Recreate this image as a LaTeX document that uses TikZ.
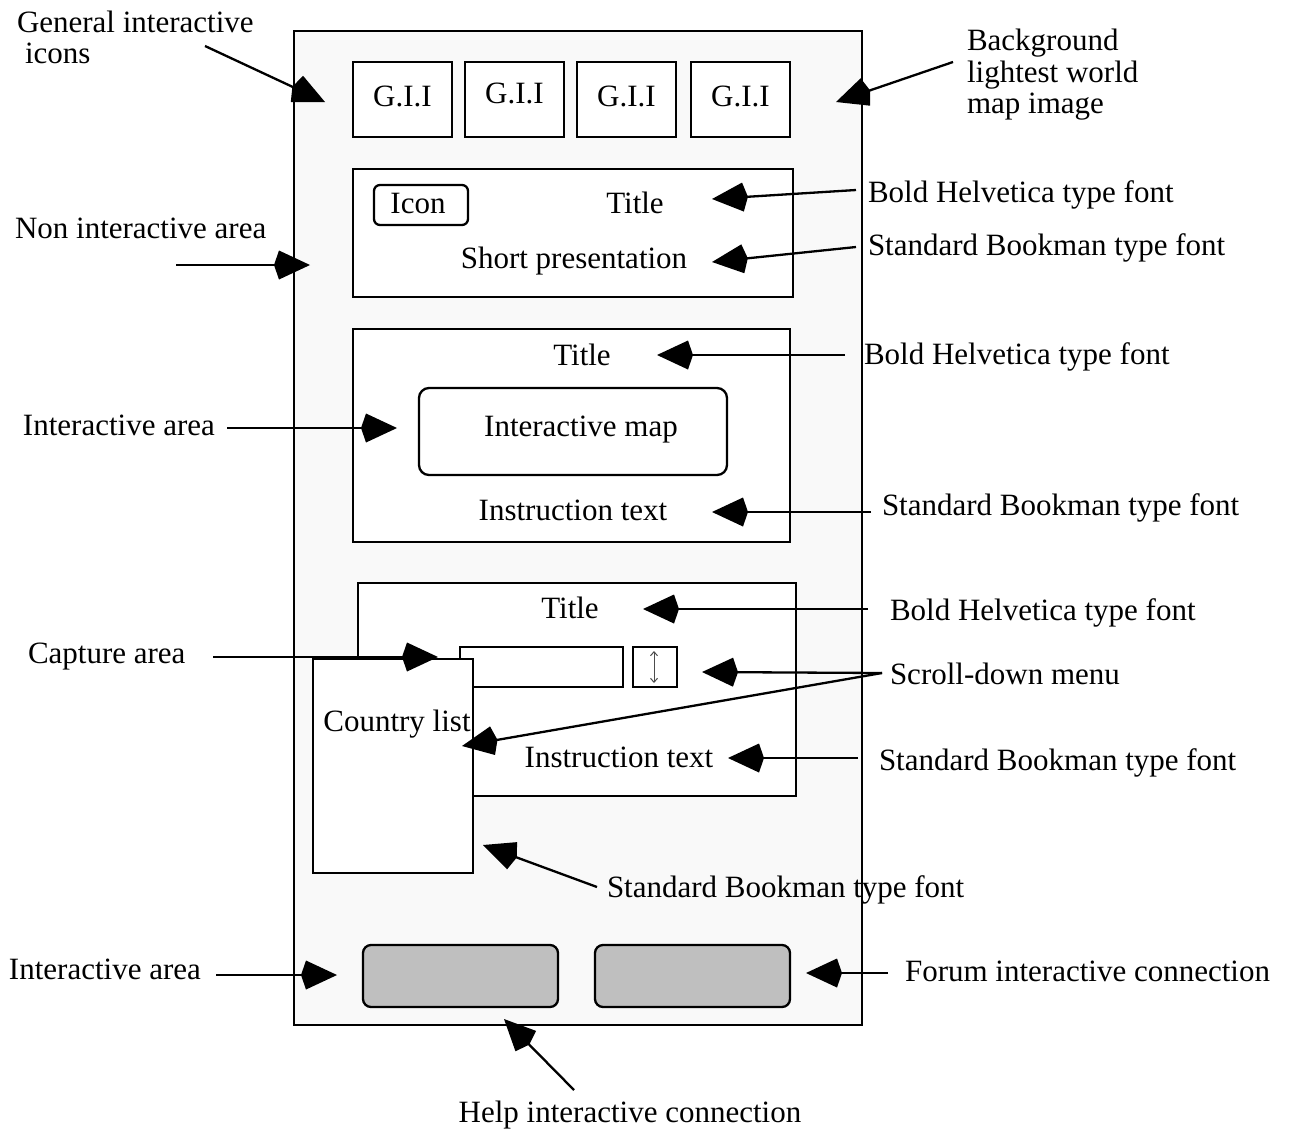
\documentclass[tikz,border=0pt]{standalone}
\usepackage{fontspec}
\setmainfont{Liberation Serif}
\usetikzlibrary{arrows.meta}
\definecolor{framebg}{HTML}{F9F9F9}
\definecolor{btngray}{HTML}{BFBFBF}
\begin{document}
\begin{tikzpicture}[x=1pt,y=-1pt,
  txt/.style={font=\fontsize{31}{31}\selectfont, inner sep=0pt, outer sep=0pt},
  lbl/.style={txt, anchor=base west},
  ctr/.style={txt, anchor=base},
  bx/.style={draw, line width=2.3pt, fill=white, inner sep=0pt, outer sep=0pt},
  btn/.style={bx, fill=btngray, rounded corners=8pt, minimum width=195pt, minimum height=62pt},
  arr/.style={line width=2.3pt, -{Kite[length=36pt,width=29pt,inset=5pt]}},
]
\useasboundingbox (0,0) rectangle (1292,1133);

% main frame
\node[bx, fill=framebg, minimum width=568pt, minimum height=994pt] (frame) at (578,528) {};

% general interactive icons
\node[bx, minimum width=99pt, minimum height=75pt] (g1) at (402.5,99.5) {};
\node[bx, minimum width=99pt, minimum height=75pt] (g2) at (514.5,99.5) {};
\node[bx, minimum width=99pt, minimum height=75pt] (g3) at (626.5,99.5) {};
\node[bx, minimum width=99pt, minimum height=75pt] (g4) at (740.5,99.5) {};
\node[ctr] (g1t) at (402.5,106) {G.I.I};
\node[ctr] (g2t) at (514.5,103) {G.I.I};
\node[ctr] (g3t) at (626.5,106) {G.I.I};
\node[ctr] (g4t) at (740.5,106) {G.I.I};

% non interactive area box
\node[bx, minimum width=440pt, minimum height=128pt] (b1) at (573,233) {};
\node[bx, rounded corners=6pt, minimum width=94pt, minimum height=40pt] (icon) at (421,205) {};
\node[ctr] (icont) at (418,213) {Icon};
\node[ctr] (t1) at (635,213) {Title};
\node[ctr] (sp) at (574,268) {Short presentation};

% interactive area box
\node[bx, minimum width=437pt, minimum height=213pt] (b2) at (571.5,435.5) {};
\node[bx, rounded corners=10pt, minimum width=308pt, minimum height=87pt] (map) at (573,431.5) {};
\node[ctr] (t2) at (582,365) {Title};
\node[ctr] (mapt) at (581,436) {Interactive map};
\node[ctr] (it2) at (573,520) {Instruction text};

% capture area box
\node[bx, minimum width=438pt, minimum height=213pt] (b3) at (577,689.5) {};
\node[bx, minimum width=163pt, minimum height=40pt] (inp) at (541.5,667) {};
\node[bx, minimum width=44pt, minimum height=40pt] (scr) at (655,667) {};
\coordinate (scA) at (654,651);
\coordinate (scB) at (654,683);
\draw[gray!60!black, line width=1pt, {Straight Barb[length=4pt,width=7pt]}-{Straight Barb[length=4pt,width=7pt]}] (scA) -- (scB);
\node[bx, minimum width=160pt, minimum height=214pt] (cl) at (393,766) {};
\node[ctr] (t3) at (570,618) {Title};
\node[ctr] (clt) at (397,731) {Country list};
\node[ctr] (it3) at (619,767) {Instruction text};

% buttons
\node[btn] (help) at (460.5,976) {};
\node[btn] (forum) at (692.5,976) {};

% outside labels
\node[lbl] (l1a) at (17,32) {General interactive};
\node[lbl] (l1b) at (25,63) {icons};
\node[lbl] (l2a) at (967,50) {Background};
\node[lbl] (l2b) at (967,82) {lightest world};
\node[lbl] (l2c) at (967,113) {map image};
\node[lbl] (l3) at (868,202) {Bold Helvetica type font};
\node[lbl] (l4) at (868,255) {Standard Bookman type font};
\node[lbl] (l5) at (15,238) {Non interactive area};
\node[lbl] (l6) at (864,364) {Bold Helvetica type font};
\node[lbl] (l7) at (23,435) {Interactive area};
\node[lbl] (l8) at (882,515) {Standard Bookman type font};
\node[lbl] (l9) at (890,620) {Bold Helvetica type font};
\node[lbl] (l10) at (28,663) {Capture area};
\node[lbl] (l11) at (890,684) {Scroll-down menu};
\node[lbl] (l12) at (879,770) {Standard Bookman type font};
\node[lbl] (l13) at (607,897) {Standard Bookman type font};
\node[lbl] (l14) at (9,979) {Interactive area};
\node[lbl] (l15) at (905,981) {Forum interactive connection};
\node[ctr] (l16) at (630,1122) {Help interactive connection};

% arrow end points
\coordinate (a1s) at (205,46);   \coordinate (a1e) at (325,102);
\coordinate (a2s) at (953,62);   \coordinate (a2e) at (836,102);
\coordinate (a3s) at (856,190);  \coordinate (a3e) at (712,199);
\coordinate (a4s) at (856,247);  \coordinate (a4e) at (712,262);
\coordinate (a5s) at (176,265);  \coordinate (a5e) at (310,265);
\coordinate (a6s) at (845,355);  \coordinate (a6e) at (657,355);
\coordinate (a7s) at (227,428);  \coordinate (a7e) at (397,428);
\coordinate (a8s) at (871,512);  \coordinate (a8e) at (712,512);
\coordinate (a9s) at (868,609);  \coordinate (a9e) at (643,609);
\coordinate (a10s) at (213,657); \coordinate (a10e) at (438,657);
\coordinate (a11s) at (882,673); \coordinate (a11e) at (702,672);
\coordinate (a12e) at (462,746);
\coordinate (a13s) at (858,758); \coordinate (a13e) at (728,758);
\coordinate (a14s) at (597,887); \coordinate (a14e) at (483,845);
\coordinate (a15s) at (216,975); \coordinate (a15e) at (337,975);
\coordinate (a16s) at (888,973); \coordinate (a16e) at (806,973);
\coordinate (a17s) at (574,1090);\coordinate (a17e) at (504,1019);

\draw[arr] (a1s) -- (a1e);
\draw[arr] (a2s) -- (a2e);
\draw[arr] (a3s) -- (a3e);
\draw[arr] (a4s) -- (a4e);
\draw[arr] (a5s) -- (a5e);
\draw[arr] (a6s) -- (a6e);
\draw[arr] (a7s) -- (a7e);
\draw[arr] (a8s) -- (a8e);
\draw[arr] (a9s) -- (a9e);
\draw[arr] (a10s) -- (a10e);
\draw[arr] (a11s) -- (a11e);
\draw[arr] (a11s) -- (a12e);
\draw[arr] (a13s) -- (a13e);
\draw[arr] (a14s) -- (a14e);
\draw[arr] (a15s) -- (a15e);
\draw[arr] (a16s) -- (a16e);
\draw[arr] (a17s) -- (a17e);
\end{tikzpicture}
\end{document}
